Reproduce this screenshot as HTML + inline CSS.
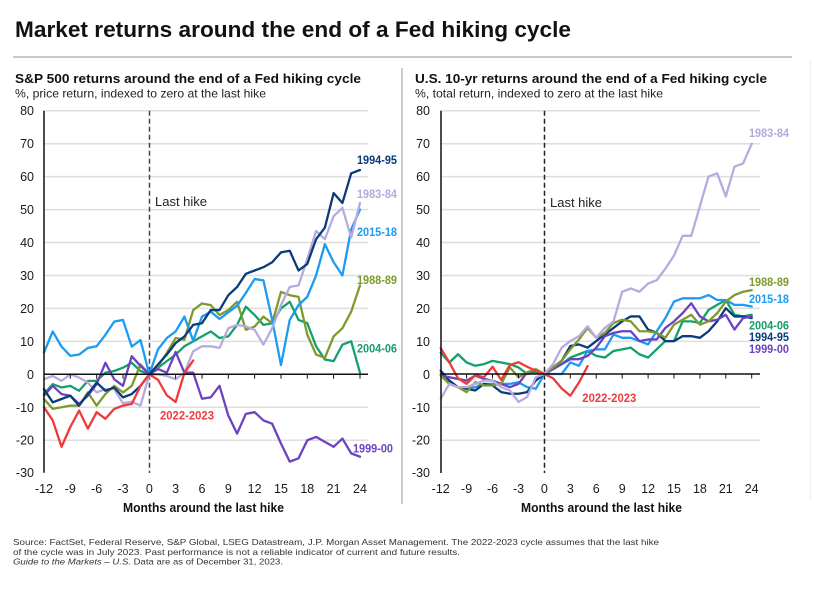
<!DOCTYPE html>
<html><head><meta charset="utf-8"><style>
html,body{margin:0;padding:0;background:#fff;}
svg{display:block;font-family:"Liberation Sans",Arial,sans-serif;}
.s{fill:none;stroke-width:2.3;stroke-linejoin:round;stroke-linecap:round;vector-effect:non-scaling-stroke;}
.g{stroke:#dedede;stroke-width:1.5;}
.yl{font-size:12.5px;fill:#1a1a1a;text-anchor:end;}
.xl{font-size:12.5px;fill:#1a1a1a;text-anchor:middle;}
.lb{font-size:11.5px;font-weight:bold;}
</style></head><body>
<svg width="814" height="606" viewBox="0 0 814 606" xmlns="http://www.w3.org/2000/svg">
<rect width="814" height="606" fill="#fff"/>
<text x="15" y="37" font-size="22" font-weight="bold" fill="#111" textLength="556" lengthAdjust="spacingAndGlyphs">Market returns around the end of a Fed hiking cycle</text>
<line x1="13" y1="57" x2="792" y2="57" stroke="#c9c9c9" stroke-width="2"/>
<line x1="402" y1="68" x2="402" y2="504" stroke="#9a9a9a" stroke-width="1"/>
<line x1="810.5" y1="60" x2="810.5" y2="500" stroke="#efefef" stroke-width="1"/>

<text x="15" y="83" font-size="12.5" font-weight="bold" fill="#111" textLength="346" lengthAdjust="spacingAndGlyphs">S&amp;P 500 returns around the end of a Fed hiking cycle</text>
<text x="15" y="97.5" font-size="12" fill="#222" textLength="251" lengthAdjust="spacingAndGlyphs">%, price return, indexed to zero at the last hike</text>
<text x="415" y="83" font-size="12.5" font-weight="bold" fill="#111" textLength="352" lengthAdjust="spacingAndGlyphs">U.S. 10-yr returns around the end of a Fed hiking cycle</text>
<text x="415" y="97.5" font-size="12" fill="#222" textLength="248" lengthAdjust="spacingAndGlyphs">%, total return, indexed to zero at the last hike</text>

<!-- LEFT CHART -->
<g>
<line class="g" x1="44" x2="368" y1="110.7" y2="110.7"/>
<line class="g" x1="44" x2="368" y1="143.7" y2="143.7"/>
<line class="g" x1="44" x2="368" y1="176.6" y2="176.6"/>
<line class="g" x1="44" x2="368" y1="209.6" y2="209.6"/>
<line class="g" x1="44" x2="368" y1="242.5" y2="242.5"/>
<line class="g" x1="44" x2="368" y1="275.5" y2="275.5"/>
<line class="g" x1="44" x2="368" y1="308.4" y2="308.4"/>
<line class="g" x1="44" x2="368" y1="341.4" y2="341.4"/>
<line class="g" x1="44" x2="368" y1="407.3" y2="407.3"/>
<line class="g" x1="44" x2="368" y1="440.2" y2="440.2"/>
<text class="yl" x="34" y="115.2">80</text>
<text class="yl" x="34" y="148.2">70</text>
<text class="yl" x="34" y="181.1">60</text>
<text class="yl" x="34" y="214.1">50</text>
<text class="yl" x="34" y="247">40</text>
<text class="yl" x="34" y="280">30</text>
<text class="yl" x="34" y="312.9">20</text>
<text class="yl" x="34" y="345.9">10</text>
<text class="yl" x="34" y="378.8">0</text>
<text class="yl" x="34" y="411.8">-10</text>
<text class="yl" x="34" y="444.7">-20</text>
<text class="yl" x="34" y="477.2">-30</text>
<text class="xl" x="44" y="493">-12</text>
<text class="xl" x="70.3" y="493">-9</text>
<text class="xl" x="96.7" y="493">-6</text>
<text class="xl" x="123" y="493">-3</text>
<text class="xl" x="149.3" y="493">0</text>
<text class="xl" x="175.6" y="493">3</text>
<text class="xl" x="202" y="493">6</text>
<text class="xl" x="228.3" y="493">9</text>
<text class="xl" x="254.6" y="493">12</text>
<text class="xl" x="281" y="493">15</text>
<text class="xl" x="307.3" y="493">18</text>
<text class="xl" x="333.6" y="493">21</text>
<text class="xl" x="360" y="493">24</text>
<text x="203.5" y="512" font-size="12.5" font-weight="bold" fill="#111" text-anchor="middle" textLength="161" lengthAdjust="spacingAndGlyphs">Months around the last hike</text>
<line x1="149.5" y1="110.7" x2="149.5" y2="473" stroke="#444" stroke-width="1.5" stroke-dasharray="5,3"/>
<text x="155" y="206" font-size="13" fill="#222">Last hike</text>
<g transform="translate(149.3,374.3) scale(8.778,-3.295)">
<polyline class="s" stroke="#13a06b" points="-12,-6 -11,-3 -10,-4 -9,-3.5 -8,-5 -7,-2 -6,-2 -5,0.5 -4,1 -3,2 -2,3.5 -1,1 0,0 1,2 2,4 3,6 4,8.5 5,10 6,11.5 7,13 8,11 9,11.5 10,15 11,20.5 12,18 13,15 14,15.5 15,20 16,22 17,16.5 18,15.5 19,8.5 20,4.5 21,4 22,9 23,10 24,0.5"/>
<polyline class="s" stroke="#7d9b2c" points="-12,-7.5 -11,-10.5 -10,-10 -9,-9.5 -8,-9.5 -7,-5.5 -6,-9.5 -5,-6 -4,-3.5 -3,-5.5 -2,-3.5 -1,3 0,0 1,2.5 2,6.5 3,11 4,10.5 5,19.5 6,21.5 7,21 8,18 9,19.5 10,22 11,13.5 12,14.5 13,17.5 14,15.5 15,25 16,24 17,23.5 18,12 19,6 20,5 21,11.5 22,14 23,19 24,27"/>
<polyline class="s" stroke="#1b9cf2" points="-12,6.6 -11,13 -10,8.4 -9,5.6 -8,6 -7,8 -6,8.5 -5,12 -4,16 -3,16.5 -2,8.4 -1,10.4 0,0 1,7.6 2,11 3,13 4,17.5 5,10.2 6,17.5 7,19 8,16.8 9,18.8 10,20.8 11,24.7 12,28.9 13,28.5 14,16.5 15,2.8 16,16.5 17,21 18,23.5 19,30 20,39.5 21,34 22,30 23,44 24,50"/>
<polyline class="s" stroke="#b8aadf" points="-12,-1.5 -11,-0.5 -10,-2 -9,0 -8,-1 -7,-2.5 -6,-5.5 -5,-4.5 -4,-4.5 -3,-8.8 -2,-8.3 -1,-9.5 0,0 1,0 2,-0.5 3,-1.5 4,0.5 5,7 6,8.5 7,8.5 8,8 9,14 10,15 11,14.5 12,13.5 13,9 14,14 15,21 16,26.5 17,27 18,35 19,43.5 20,41 21,48 22,50.5 23,41.5 24,52"/>
<polyline class="s" stroke="#6b42c1" points="-12,-6.5 -11,-3.5 -10,-6 -9,-6.5 -8,-9 -7,-6.5 -6,-3 -5,3.5 -4,-1.5 -3,-3.5 -2,5.5 -1,2.5 0,0 1,1.6 2,0.5 3,6.8 4,0.5 5,0.5 6,-7.4 7,-7 8,-3.5 9,-12.5 10,-18 11,-12 12,-11.5 13,-14 14,-15 15,-21 16,-26.5 17,-25.5 18,-20 19,-19 20,-20.5 21,-22 22,-19.5 23,-24 24,-25"/>
<polyline class="s" stroke="#0b3b7a" points="-12,-4.5 -11,-8.5 -10,-7.5 -9,-6.5 -8,-9.5 -7,-6 -6,-2.5 -5,-5 -4,-4 -3,-7 -2,-6 -1,-3.5 0,0 1,3 2,6 3,9.5 4,11.5 5,15 6,15.5 7,19.5 8,19.5 9,24 10,26.5 11,30.5 12,31.5 13,32.5 14,34 15,37 16,37.5 17,31.5 18,33.5 19,41 20,44.5 21,55 22,52 23,61 24,62"/>
<polyline class="s" stroke="#f03a3a" points="-12,-10 -11,-14 -10,-22 -9,-16 -8,-11 -7,-16.5 -6,-11.5 -5,-13.5 -4,-10.5 -3,-9.5 -2,-9 -1,-3.5 0,0 1,-1.7 2,-6.4 3,-8.4 4,0.4 5,4.2"/>
</g>
<line x1="44" y1="374.3" x2="368" y2="374.3" stroke="#111" stroke-width="1.5"/>
<g stroke="#111" stroke-width="1">
<line x1="70.3" x2="70.3" y1="374.3" y2="378.8"/><line x1="96.7" x2="96.7" y1="374.3" y2="378.8"/><line x1="123" x2="123" y1="374.3" y2="378.8"/><line x1="175.6" x2="175.6" y1="374.3" y2="378.8"/><line x1="202" x2="202" y1="374.3" y2="378.8"/><line x1="228.3" x2="228.3" y1="374.3" y2="378.8"/><line x1="254.6" x2="254.6" y1="374.3" y2="378.8"/><line x1="281" x2="281" y1="374.3" y2="378.8"/><line x1="307.3" x2="307.3" y1="374.3" y2="378.8"/><line x1="333.6" x2="333.6" y1="374.3" y2="378.8"/><line x1="360" x2="360" y1="374.3" y2="378.8"/>
</g>
<line x1="44" y1="110.7" x2="44" y2="472.7" stroke="#111" stroke-width="1.5"/>
<text class="lb" x="357" y="164" fill="#0b3b7a" textLength="40" lengthAdjust="spacingAndGlyphs">1994-95</text>
<text class="lb" x="357" y="198" fill="#b5a8dc" textLength="40" lengthAdjust="spacingAndGlyphs">1983-84</text>
<text class="lb" x="357" y="236" fill="#1b9cf2" textLength="40" lengthAdjust="spacingAndGlyphs">2015-18</text>
<text class="lb" x="357" y="284" fill="#7d9b2c" textLength="40" lengthAdjust="spacingAndGlyphs">1988-89</text>
<text class="lb" x="357" y="352.5" fill="#13a06b" textLength="40" lengthAdjust="spacingAndGlyphs">2004-06</text>
<text class="lb" x="353" y="452.5" fill="#6b42c1" textLength="40" lengthAdjust="spacingAndGlyphs">1999-00</text>
<text class="lb" x="160" y="419.5" fill="#f03a3a" textLength="54" lengthAdjust="spacingAndGlyphs">2022-2023</text>
</g>

<!-- RIGHT CHART -->
<g>
<line class="g" x1="441" x2="760" y1="110.7" y2="110.7"/>
<line class="g" x1="441" x2="760" y1="143.7" y2="143.7"/>
<line class="g" x1="441" x2="760" y1="176.6" y2="176.6"/>
<line class="g" x1="441" x2="760" y1="209.6" y2="209.6"/>
<line class="g" x1="441" x2="760" y1="242.5" y2="242.5"/>
<line class="g" x1="441" x2="760" y1="275.5" y2="275.5"/>
<line class="g" x1="441" x2="760" y1="308.4" y2="308.4"/>
<line class="g" x1="441" x2="760" y1="341.4" y2="341.4"/>
<line class="g" x1="441" x2="760" y1="407.3" y2="407.3"/>
<line class="g" x1="441" x2="760" y1="440.2" y2="440.2"/>
<text class="yl" x="430" y="115.2">80</text>
<text class="yl" x="430" y="148.2">70</text>
<text class="yl" x="430" y="181.1">60</text>
<text class="yl" x="430" y="214.1">50</text>
<text class="yl" x="430" y="247">40</text>
<text class="yl" x="430" y="280">30</text>
<text class="yl" x="430" y="312.9">20</text>
<text class="yl" x="430" y="345.9">10</text>
<text class="yl" x="430" y="378.8">0</text>
<text class="yl" x="430" y="411.8">-10</text>
<text class="yl" x="430" y="444.7">-20</text>
<text class="yl" x="430" y="477.2">-30</text>
<text class="xl" x="440.7" y="493">-12</text>
<text class="xl" x="466.6" y="493">-9</text>
<text class="xl" x="492.5" y="493">-6</text>
<text class="xl" x="518.5" y="493">-3</text>
<text class="xl" x="544.4" y="493">0</text>
<text class="xl" x="570.3" y="493">3</text>
<text class="xl" x="596.2" y="493">6</text>
<text class="xl" x="622.2" y="493">9</text>
<text class="xl" x="648.1" y="493">12</text>
<text class="xl" x="674" y="493">15</text>
<text class="xl" x="699.9" y="493">18</text>
<text class="xl" x="725.8" y="493">21</text>
<text class="xl" x="751.7" y="493">24</text>
<text x="601.5" y="512" font-size="12.5" font-weight="bold" fill="#111" text-anchor="middle" textLength="161" lengthAdjust="spacingAndGlyphs">Months around the last hike</text>
<line x1="544.5" y1="110.7" x2="544.5" y2="473" stroke="#222" stroke-width="1.5" stroke-dasharray="5,3"/>
<text x="550" y="207" font-size="13" fill="#222">Last hike</text>
<g transform="translate(544.4,374) scale(8.639,-3.29)">
<polyline class="s" stroke="#13a06b" points="-12,6.5 -11,3.5 -10,6 -9,3.5 -8,2.5 -7,3 -6,4 -5,3.5 -4,3 -3,2 -2,0 -1,0.5 0,0 1,1.5 2,3 3,5 4,6 5,7 6,5.5 7,5 8,7 9,7.5 10,8 11,6 12,5 13,7.5 14,10 15,10 16,16 17,16 18,15.5 19,19.5 20,21 21,22.5 22,18 23,17.5 24,18"/>
<polyline class="s" stroke="#1b9cf2" points="-12,0 -11,-3 -10,-4 -9,-4.5 -8,-4 -7,-3 -6,-3 -5,-3 -4,-3 -3,-2.5 -2,-4 -1,-4.5 0,0 1,0 2,0 3,3.5 4,2.5 5,7 6,7.5 7,7.5 8,12 9,11 10,11 11,10 12,9 13,13 14,17 15,22 16,23 17,23 18,23 19,24 20,22.5 21,22.5 22,21 23,21 24,20.5"/>
<polyline class="s" stroke="#0b3b7a" points="-12,1 -11,-2 -10,-4 -9,-4.5 -8,-5 -7,-3 -6,-3.5 -5,-5.5 -4,-6 -3,-6 -2,-5.5 -1,-2 0,0 1,2 2,4 3,8.5 4,9 5,8 6,10 7,12 8,14 9,16 10,17.5 11,17.5 12,13.5 13,12.5 14,10 15,10 16,11.5 17,11.5 18,11 19,13 20,16 21,20 22,17.5 23,17.5 24,17"/>
<polyline class="s" stroke="#6b42c1" points="-12,-0.5 -11,-1 -10,-1.5 -9,-2 -8,-0.5 -7,-1.5 -6,-2 -5,-3 -4,-4 -3,-3 -2,0.5 -1,1 0,0 1,1.5 2,3 3,4.5 4,4.5 5,5.5 6,8 7,11.5 8,12.5 9,13 10,13 11,10 12,10.5 13,10.5 14,14 15,16 16,18.5 17,21.5 18,17.5 19,16 20,16.5 21,18 22,13.5 23,17 24,17.5"/>
<polyline class="s" stroke="#7d9b2c" points="-12,-0.5 -11,-3 -10,-4 -9,-5.5 -8,-2.5 -7,-3.5 -6,-3.5 -5,-3 -4,2 -3,-1 -2,0.5 -1,1.5 0,0 1,2 2,4 3,7.5 4,10.5 5,14 6,11 7,12.5 8,15.5 9,16.5 10,16 11,13 12,13 13,12.5 14,11 15,15 16,16.5 17,18 18,15 19,16 20,18.5 21,22 22,24 23,25 24,25.5"/>
<polyline class="s" stroke="#b8aadf" points="-12,-7.5 -11,-3 -10,-4 -9,-4 -8,-3 -7,-2 -6,-2 -5,-4 -4,-5 -3,-8.5 -2,-7 -1,-1 0,0 1,3 2,8 3,10 4,11.5 5,14.5 6,11 7,14 8,16 9,25 10,26 11,25 12,27.5 13,28.5 14,32 15,36 16,42 17,42 18,51 19,60 20,61 21,54 22,63 23,64 24,70"/>
<polyline class="s" stroke="#f03a3a" points="-12,7.8 -11,3.5 -10,-1.3 -9,-3 -8,-0.3 -7,-1 -6,2.2 -5,-1.8 -4,2.7 -3,3.6 -2,2.2 -1,1 0,0 1,-1.3 2,-4.4 3,-6.6 4,-2.6 5,2.4"/>
</g>
<line x1="441" y1="374" x2="760" y2="374" stroke="#111" stroke-width="1.5"/>
<g stroke="#111" stroke-width="1">
<line x1="466.6" x2="466.6" y1="374" y2="378.5"/><line x1="492.5" x2="492.5" y1="374" y2="378.5"/><line x1="518.5" x2="518.5" y1="374" y2="378.5"/><line x1="570.3" x2="570.3" y1="374" y2="378.5"/><line x1="596.2" x2="596.2" y1="374" y2="378.5"/><line x1="622.2" x2="622.2" y1="374" y2="378.5"/><line x1="648.1" x2="648.1" y1="374" y2="378.5"/><line x1="674" x2="674" y1="374" y2="378.5"/><line x1="699.9" x2="699.9" y1="374" y2="378.5"/><line x1="725.8" x2="725.8" y1="374" y2="378.5"/><line x1="751.7" x2="751.7" y1="374" y2="378.5"/>
</g>
<line x1="441" y1="110.7" x2="441" y2="473" stroke="#111" stroke-width="1.5"/>
<text class="lb" x="749" y="137" fill="#b5a8dc" textLength="40" lengthAdjust="spacingAndGlyphs">1983-84</text>
<text class="lb" x="749" y="286" fill="#7d9b2c" textLength="40" lengthAdjust="spacingAndGlyphs">1988-89</text>
<text class="lb" x="749" y="303" fill="#1b9cf2" textLength="40" lengthAdjust="spacingAndGlyphs">2015-18</text>
<text class="lb" x="749" y="329.5" fill="#13a06b" textLength="40" lengthAdjust="spacingAndGlyphs">2004-06</text>
<text class="lb" x="749" y="341" fill="#0b3b7a" textLength="40" lengthAdjust="spacingAndGlyphs">1994-95</text>
<text class="lb" x="749" y="353" fill="#6b42c1" textLength="40" lengthAdjust="spacingAndGlyphs">1999-00</text>
<text class="lb" x="582.3" y="402" fill="#f03a3a" textLength="54" lengthAdjust="spacingAndGlyphs">2022-2023</text>
</g>

<!-- FOOTER -->
<text x="13" y="545" font-size="8.5" fill="#333" textLength="646" lengthAdjust="spacingAndGlyphs">Source: FactSet, Federal Reserve, S&amp;P Global, LSEG Datastream, J.P. Morgan Asset Management. The 2022-2023 cycle assumes that the last hike</text>
<text x="13" y="555" font-size="8.5" fill="#333" textLength="447" lengthAdjust="spacingAndGlyphs">of the cycle was in July 2023. Past performance is not a reliable indicator of current and future results.</text>
<text x="13" y="564.5" font-size="8.5" fill="#333" textLength="270" lengthAdjust="spacingAndGlyphs"><tspan font-style="italic">Guide to the Markets – U.S.</tspan> Data are as of December 31, 2023.</text>
</svg>
</body></html>
